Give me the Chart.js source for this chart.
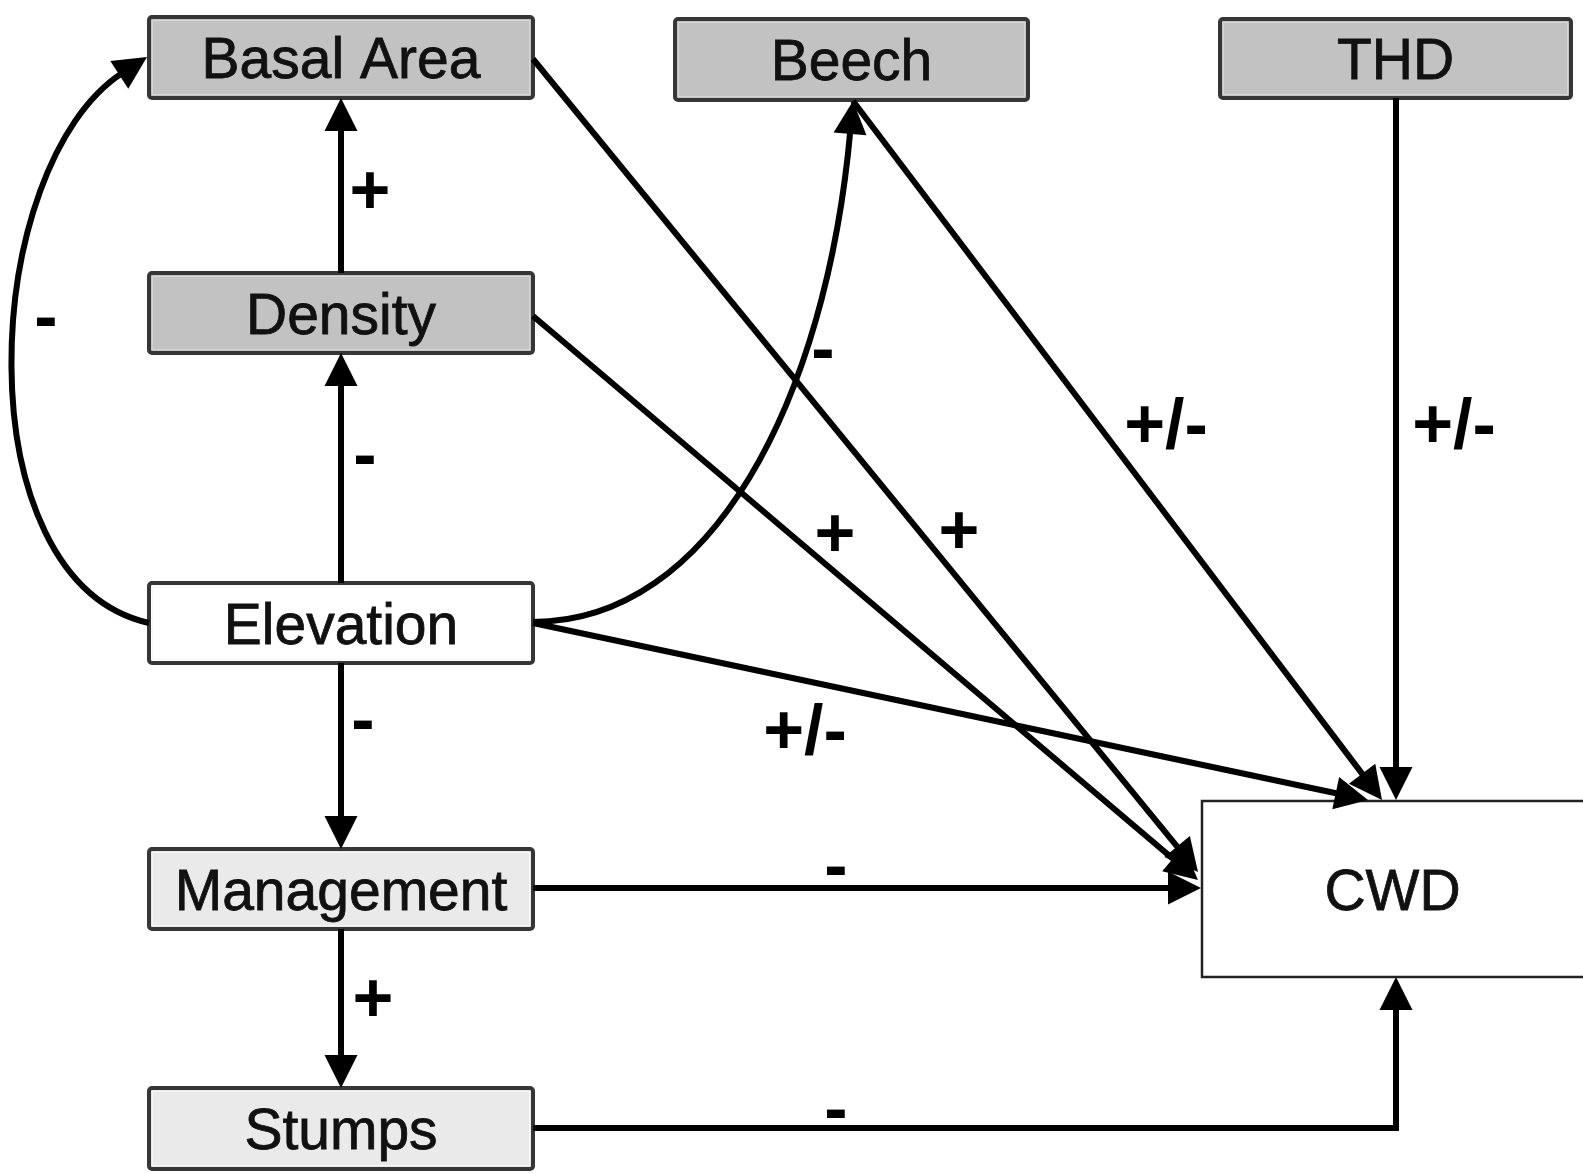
<!DOCTYPE html>
<html>
<head>
<meta charset="utf-8">
<script src="https://cdn.jsdelivr.net/npm/chart.js@4/dist/chart.umd.min.js"></script>
<style>
html,body{margin:0;padding:0;background:#fff;}
#wrap{width:1583px;height:1173px;position:relative;}
</style>
</head>
<body>
<div id="wrap"><canvas id="c"></canvas></div>
<script>
// ---- diagram data (in diagram units) ----
const nodeNames  = ['Basal Area','Beech','THD','Density','Elevation','Management','Stumps','CWD'];
const nodeLeft   = [149, 675, 1220, 149, 149, 149, 149, 1202];
const nodeRight  = [533, 1028, 1571, 533, 533, 533, 533, 1590];
const nodeTop    = [17, 19, 19, 273, 583, 849, 1088, 801];
const nodeBottom = [98, 100, 98, 353, 663, 929, 1169, 977];
const nodeKind   = ['dark','dark','dark','dark','white','light','light','outcome'];

const edgeFrom = ['Density','Elevation','Elevation','Management','Elevation','Elevation','Basal Area','Density','Elevation','Beech','THD','Management','Stumps'];
const edgeTo   = ['Basal Area','Density','Management','Stumps','Basal Area','Beech','CWD','CWD','CWD','CWD','CWD','CWD','CWD'];
const edgeSign = ['+','-','-','+','-','-','+','+','+/-','+/-','+/-','-','-'];
const edgeShape = ['line','line','line','line','curve','curve','line','line','line','line','line','line','poly'];
const edgePathX = [[341,341],[341,341],[341,341],[341,341],[149,-40,-20,147],[533,712,826,853],[533,1198],[533,1198],[533,1368],[853,1382],[1396,1396],[533,1201],[533,1396,1396]];
const edgePathY = [[273,98],[583,353],[663,849],[929,1088],[623,580,165,57],[622,622,400,101],[59,872],[316,880],[623,800],[101,800],[98,800],[888,888],[1128,1128,977]];
const labelX = [370, 365, 363, 373, 46, 823, 835, 959, 805, 1166, 1454, 836, 836];
const labelY = [195, 459, 724, 1003, 321, 353, 538, 535, 735, 429, 429, 870, 1113];

const X_MIN = 0, X_MAX = 1583, Y_MIN = 0, Y_MAX = 1173;

// ---- drawing plugin ----
const diagramPlugin = {
  id: 'diagram',
  afterDatasetsDraw(chart) {
    const ctx = chart.ctx;
    const sx = chart.scales.x, sy = chart.scales.y;
    const px = v => sx.getPixelForValue(v);
    const py = v => sy.getPixelForValue(v);
    const fills = {dark:'#c2c2c2', white:'#ffffff', light:'#eaeaea', outcome:'#ffffff'};

    ctx.save();
    // boxes
    nodeNames.forEach((name, i) => {
      const x0 = px(nodeLeft[i]), x1 = px(nodeRight[i]);
      const y0 = py(nodeTop[i]), y1 = py(nodeBottom[i]);
      const kind = nodeKind[i];
      ctx.beginPath();
      if (ctx.roundRect) ctx.roundRect(x0, y0, x1 - x0, y1 - y0, kind === 'outcome' ? 0 : 3);
      else ctx.rect(x0, y0, x1 - x0, y1 - y0);
      ctx.fillStyle = fills[kind];
      ctx.fill();
      ctx.lineWidth = kind === 'outcome' ? 2.5 : 4;
      ctx.strokeStyle = kind === 'outcome' ? '#222' : '#363636';
      ctx.stroke();
      if (kind !== 'outcome') {
        ctx.beginPath();
        ctx.rect(x0 + 3.5, y0 + 3.5, x1 - x0 - 7, y1 - y0 - 7);
        ctx.lineWidth = 1;
        ctx.strokeStyle = kind === 'dark' ? '#d6d6d6' : '#f6f6f6';
        ctx.stroke();
      }
      ctx.fillStyle = '#111';
      ctx.strokeStyle = '#111';
      ctx.lineWidth = 0.8;
      ctx.font = '57px "Liberation Sans", Arial, sans-serif';
      ctx.textAlign = 'center';
      ctx.textBaseline = 'alphabetic';
      const cx = (x0 + Math.min(x1, px(X_MAX))) / 2;
      const cy = (y0 + y1) / 2;
      const mw = (x1 - x0) - 42;
      ctx.fillText(name, cx, cy + 20.5, mw);
      ctx.strokeText(name, cx, cy + 20.5, mw);
    });

    // edges
    const AL = 33, AW = 16.5;
    function arrowHead(tx, ty, dx, dy) {
      const len = Math.hypot(dx, dy); const ux = dx / len, uy = dy / len;
      ctx.beginPath();
      ctx.moveTo(tx, ty);
      ctx.lineTo(tx - ux * AL - uy * AW, ty - uy * AL + ux * AW);
      ctx.lineTo(tx - ux * AL + uy * AW, ty - uy * AL - ux * AW);
      ctx.closePath();
      ctx.fillStyle = '#000';
      ctx.fill();
    }
    ctx.strokeStyle = '#000';
    ctx.lineWidth = 6;
    ctx.lineCap = 'butt';
    ctx.lineJoin = 'miter';
    edgeFrom.forEach((f, i) => {
      const xs = edgePathX[i].map(px), ys = edgePathY[i].map(py);
      const n = xs.length;
      ctx.beginPath();
      if (edgeShape[i] === 'curve') {
        const dx = xs[3] - xs[2], dy = ys[3] - ys[2];
        const L = Math.hypot(dx, dy);
        ctx.moveTo(xs[0], ys[0]);
        ctx.bezierCurveTo(xs[1], ys[1], xs[2], ys[2], xs[3] - dx / L * (AL - 4), ys[3] - dy / L * (AL - 4));
        ctx.stroke();
        arrowHead(xs[3], ys[3], dx, dy);
      } else {
        const dx = xs[n - 1] - xs[n - 2], dy = ys[n - 1] - ys[n - 2];
        const L = Math.hypot(dx, dy);
        ctx.moveTo(xs[0], ys[0]);
        for (let k = 1; k < n - 1; k++) ctx.lineTo(xs[k], ys[k]);
        ctx.lineTo(xs[n - 1] - dx / L * (AL - 4), ys[n - 1] - dy / L * (AL - 4));
        ctx.stroke();
        arrowHead(xs[n - 1], ys[n - 1], dx, dy);
      }
    });

    // labels
    ctx.fillStyle = '#000';
    ctx.font = 'bold 70px "Liberation Sans", Arial, sans-serif';
    ctx.textAlign = 'center';
    ctx.textBaseline = 'middle';
    edgeSign.forEach((s, i) => {
      ctx.fillText(s, px(labelX[i]), py(labelY[i]));
    });
    ctx.restore();
  }
};

new Chart(document.getElementById('c'), {
  type: 'scatter',
  data: {
    datasets: [{
      data: nodeNames.map((n, i) => ({x: (nodeLeft[i] + nodeRight[i]) / 2, y: (nodeTop[i] + nodeBottom[i]) / 2})),
      pointRadius: 0,
      pointHoverRadius: 0
    }]
  },
  options: {
    responsive: true,
    maintainAspectRatio: false,
    animation: false,
    layout: {padding: 0},
    plugins: {legend: {display: false}, tooltip: {enabled: false}},
    events: [],
    scales: {
      x: {type: 'linear', min: X_MIN, max: X_MAX, display: false},
      y: {type: 'linear', min: Y_MIN, max: Y_MAX, reverse: true, display: false}
    }
  },
  plugins: [diagramPlugin]
});
</script>
</body>
</html>
